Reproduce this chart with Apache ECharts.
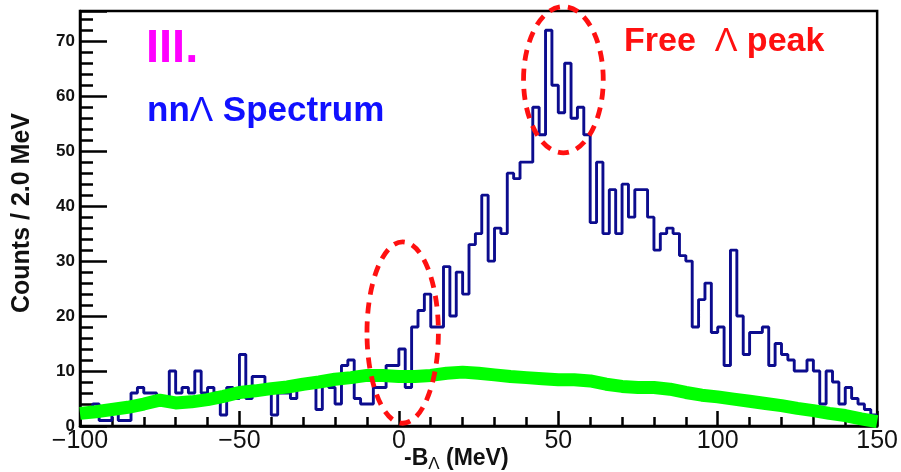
<!DOCTYPE html>
<html>
<head>
<meta charset="utf-8">
<script src="https://cdn.jsdelivr.net/npm/echarts@6/dist/echarts.min.js"></script>
<style>
  html, body { margin: 0; padding: 0; background: #fff; }
  #chart { width: 901px; height: 472px; }
</style>
</head>
<body>
<div id="chart"></div>
<script>
// nnΛ missing-mass spectrum: counts per 2 MeV bin, -100 .. 150 MeV
const binStart = -100;
const binWidth = 2;
const counts = [
  3, 3, 4, 1, 1, 3, 1, 1, 6, 7,
  6, 6, 5, 5, 10, 6, 7, 6, 10, 6,
  7, 6, 2, 7, 5, 13, 5, 9, 9, 7,
  2, 6, 6, 5, 7, 8, 7, 3, 8, 7,
  4, 11, 12, 5, 4, 4, 7, 7, 11, 11,
  14, 7, 18, 21, 24, 18, 18, 29, 20, 28,
  24, 33, 35, 42, 30, 36, 35, 46, 45, 48,
  48, 58, 53, 72, 62, 57, 66, 56, 58, 53,
  37, 48, 35, 43, 35, 44, 38, 43, 43, 38,
  32, 35, 36, 35, 31, 30, 18, 23, 26, 17,
  18, 11, 32, 20, 13, 17, 17, 18, 11, 15,
  13, 12, 10, 10, 12, 10, 4, 10, 8, 4,
  7, 5, 4, 3, 2
];

// background estimate, sampled every 5 MeV
const bkgX = [
  -100, -95, -90, -85, -80, -75, -70, -65, -60, -55,
  -50, -45, -40, -35, -30, -25, -20, -15, -10, -5,
  0, 5, 10, 15, 20, 25, 30, 35, 40, 45,
  50, 55, 60, 65, 70, 75, 80, 85, 90, 95,
  100, 105, 110, 115, 120, 125, 130, 135, 140, 145, 150
];
const bkgY = [
  2.3, 2.6, 3.0, 3.4, 4.0, 4.7, 4.2, 4.4, 4.8, 5.4,
  6.1, 6.4, 6.8, 7.1, 7.6, 8.0, 8.5, 8.8, 9.2, 9.2,
  9.0, 9.0, 9.2, 9.6, 9.8, 9.6, 9.3, 9.0, 8.8, 8.6,
  8.4, 8.4, 8.2, 7.6, 7.2, 7.0, 7.0, 6.7, 6.1, 5.6,
  5.3, 4.9, 4.5, 4.1, 3.7, 3.2, 2.8, 2.3, 1.9, 1.3, 0.8
];

const xRange = [-100, 150];
const yRange = [0, 75.5];
const xMajor = 50, xMinor = 10;
const yMajor = 10, yMinor = 2;

// regions of interest marked with dashed rings (MeV, counts)
const ringCentres = [[1.2, 17], [51.6, 63]];
const ringRadii = [[11.2, 16.5], [12.5, 13.3]];

const FONT = '"Liberation Sans", Arial, Helvetica, sans-serif';

// histogram outline: one point per lower bin edge plus the closing edge
const histData = counts.map((c, i) => [binStart + i * binWidth, c]);
histData.push([binStart + counts.length * binWidth, counts[counts.length - 1]]);
const bkgData = bkgX.map((x, i) => [x, bkgY[i]]);

const fmtX = v => (v < 0 ? '\u2212' + Math.abs(v) : String(v));

const chart = echarts.init(document.getElementById('chart'));
chart.setOption({
  animation: false,
  backgroundColor: '#fff',
  grid: {
    left: 80, right: 21, top: 11, bottom: 46,
    show: true, borderColor: '#000', borderWidth: 2.5
  },
  xAxis: [
    {
      type: 'value', min: xRange[0], max: xRange[1], interval: xMinor, position: 'bottom',
      axisLine: { show: true, onZero: false, lineStyle: { color: '#000', width: 2.5 } },
      axisTick: { inside: true, length: 9, lineStyle: { color: '#000', width: 2.5 } },
      axisLabel: {
        interval: 0, margin: 3, color: '#111', fontSize: 25, fontFamily: FONT,
        formatter: v => (v % xMajor === 0 ? fmtX(v) : '')
      },
      splitLine: { show: false }
    },
    {
      type: 'value', min: xRange[0], max: xRange[1], interval: xMajor, position: 'bottom',
      axisLine: { show: false, onZero: false },
      axisTick: { inside: true, length: 15, lineStyle: { color: '#000', width: 2.5 } },
      axisLabel: { show: false },
      splitLine: { show: false }
    }
  ],
  yAxis: [
    {
      type: 'value', min: yRange[0], max: yRange[1], interval: yMinor, position: 'left',
      axisLine: { show: true, onZero: false, lineStyle: { color: '#000', width: 2.5 } },
      axisTick: { inside: true, length: 13, lineStyle: { color: '#000', width: 2.5 } },
      axisLabel: {
        interval: 0, margin: 5, color: '#111', fontSize: 17, fontWeight: 'bold', fontFamily: FONT,
        showMaxLabel: false,
        formatter: v => (v % yMajor === 0 ? String(v) : '')
      },
      splitLine: { show: false }
    },
    {
      type: 'value', min: yRange[0], max: yRange[1], interval: yMajor, position: 'left',
      axisLine: { show: false, onZero: false },
      axisTick: { inside: true, length: 27, lineStyle: { color: '#000', width: 2.5 } },
      axisLabel: { show: false },
      splitLine: { show: false }
    }
  ],
  series: [
    {
      name: 'nnΛ', type: 'line', step: 'end', data: histData,
      xAxisIndex: 0, yAxisIndex: 0,
      showSymbol: false, symbol: 'none',
      lineStyle: { color: '#0c0c8e', width: 2.9 },
      z: 3
    },
    {
      name: 'background', type: 'line', data: bkgData,
      xAxisIndex: 0, yAxisIndex: 0,
      showSymbol: false, symbol: 'none', clip: false,
      lineStyle: { color: '#00ff00', width: 13, cap: 'butt', join: 'round' },
      z: 4
    }
  ]
});

// annotations placed in data coordinates
const toPx = p => chart.convertToPixel({ xAxisIndex: 0, yAxisIndex: 0 }, p);
const rings = ringCentres.map((c, i) => {
  const p0 = toPx(c);
  const px = toPx([c[0] + ringRadii[i][0], c[1]]);
  const py = toPx([c[0], c[1] + ringRadii[i][1]]);
  return {
    type: 'ellipse', z: 100,
    shape: { cx: p0[0], cy: p0[1], rx: Math.abs(px[0] - p0[0]), ry: Math.abs(p0[1] - py[1]) },
    style: { fill: 'none', stroke: '#ff1010', lineWidth: 4.8, lineDash: [11, 8] }
  };
});

chart.setOption({
  graphic: rings.concat([
    {
      type: 'text', left: 146, top: 26, z: 50,
      style: { text: 'III.', fill: '#ff00ff', font: 'bold 47px ' + FONT }
    },
    {
      type: 'text', left: 147, top: 94, z: 50,
      style: {
        text: '{b|nn}{l|\u039B}{b| Spectrum}',
        rich: {
          b: { fill: '#1010ff', font: 'bold 35px ' + FONT },
          l: { fill: '#1010ff', font: '35px ' + FONT }
        }
      }
    },
    {
      type: 'text', left: 624, top: 25, z: 50,
      style: {
        text: '{b|Free  }{l|\u039B}{b| peak}',
        rich: {
          b: { fill: '#ff1010', font: 'bold 34px ' + FONT },
          l: { fill: '#ff1010', font: '34px ' + FONT }
        }
      }
    },
    {
      type: 'text', x: 22, y: 213, rotation: Math.PI / 2, z: 50,
      style: {
        text: 'Counts / 2.0 MeV', fill: '#111', font: 'bold 25px ' + FONT,
        align: 'center', verticalAlign: 'middle'
      }
    },
    {
      type: 'text', left: 404, top: 447, z: 50,
      style: {
        text: '{b|-B}{s|\u039B}{b| (MeV)}',
        rich: {
          b: { fill: '#111', font: 'bold 23px ' + FONT },
          s: { fill: '#111', font: '17px ' + FONT, padding: [12, 0, 0, 0] }
        }
      }
    }
  ])
});
</script>
</body>
</html>
